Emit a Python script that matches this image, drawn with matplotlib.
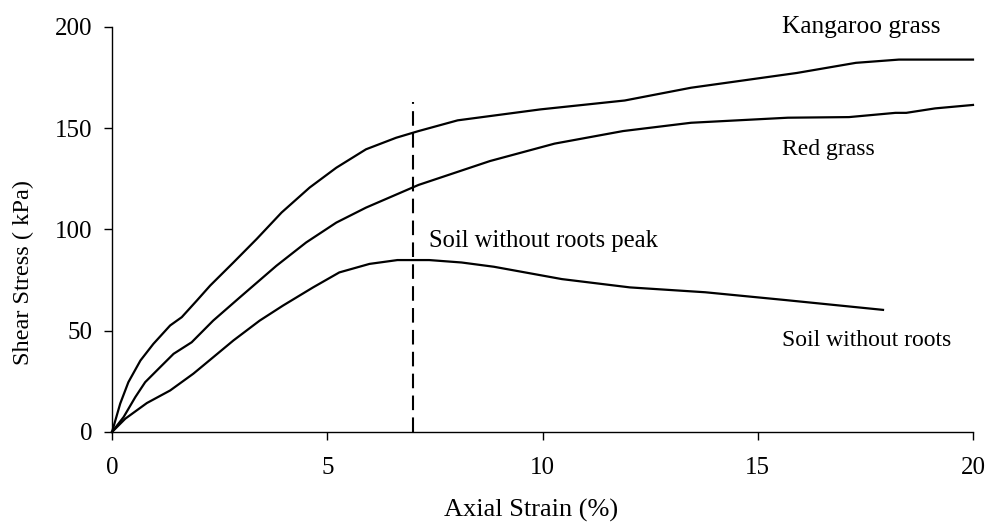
import matplotlib.pyplot as plt

# Axial strain (%) and shear stress (kPa)
kangaroo_x = [0, 0.19, 0.38, 0.66, 0.96, 1.35, 1.62, 1.97, 2.28, 2.82, 3.36, 3.94,
              4.59, 5.21, 5.9, 6.6, 7.12, 8.03, 9.95, 11.91, 13.45, 15.91, 17.28, 18.28, 20]
kangaroo_y = [0, 14, 24.6, 35.3, 43.5, 52.6, 56.7, 64.9, 72.3, 83.7, 95.3, 108.4,
              120.7, 130.5, 139.6, 145.3, 148.6, 153.9, 159.3, 163.7, 170, 177.3, 182.3, 183.9, 183.9]

red_x = [0, 0.27, 0.54, 0.77, 1.08, 1.43, 1.85, 2.35, 2.97, 3.82, 4.51, 5.21, 5.9,
         7.12, 8.78, 10.28, 11.87, 13.45, 15.7, 17.12, 18.2, 18.45, 19.12, 20]
red_y = [0, 7.4, 17.2, 24.6, 31.2, 38.6, 44.3, 55, 66.5, 82.1, 93.6, 103.4, 110.8,
         122, 133.8, 142.4, 148.6, 152.7, 155.2, 155.5, 157.6, 157.6, 159.8, 161.5]

soil_x = [0, 0.31, 0.81, 1.35, 1.89, 2.35, 2.82, 3.43, 3.97, 4.67, 5.28, 5.98, 6.63,
          7.37, 8.12, 8.87, 10.45, 12.03, 13.78, 15.62, 17.91]
soil_y = [0, 6.6, 14.3, 20.5, 28.8, 36.9, 45.2, 55, 62.4, 71.4, 78.8, 83, 84.9,
          84.9, 83.7, 81.6, 75.5, 71.4, 69, 65.2, 60.3]

peak_strain = 7.0
peak_line_top = 163

x_ticks = [0, 5, 10, 15, 20]
y_ticks = [0, 50, 100, 150, 200]

plt.rcParams['font.family'] = ['Liberation Serif', 'DejaVu Serif']

fig = plt.figure(figsize=(9.87, 5.24), dpi=100)
ax = fig.add_axes([0.1135, 0.1756, 0.8723, 0.7729])

for xs, ys in [(kangaroo_x, kangaroo_y), (red_x, red_y), (soil_x, soil_y)]:
    ax.plot(xs, ys, color='black', lw=1.6, clip_on=False)

ax.plot([peak_strain, peak_strain], [0, peak_line_top], color='black', lw=1.5,
        linestyle=(0, (7, 3.5)), clip_on=False)

ax.text(15.56, 197.2, 'Kangaroo grass', fontsize=18.3, va='baseline')
ax.text(15.56, 136.8, 'Red grass', fontsize=17, va='baseline')
ax.text(15.56, 42.5, 'Soil without roots', fontsize=17, va='baseline')
ax.text(7.36, 91.2, 'Soil without roots peak', fontsize=17.7, va='baseline')

ax.set_xlim(0, 20)
ax.set_ylim(0, 200)
ax.set_xticks(x_ticks)
ax.set_yticks(y_ticks)
ax.tick_params(direction='out', length=6, width=1, labelsize=18)
ax.tick_params(axis='x', pad=12)
ax.tick_params(axis='y', pad=8)

for side in ['top', 'right']:
    ax.spines[side].set_visible(False)
for side in ['left', 'bottom']:
    ax.spines[side].set_linewidth(1)

ax.set_xlabel('Axial Strain (%)', fontsize=19)
ax.xaxis.set_label_coords(0.487, -0.193)
ax.xaxis.label.set_va('center')
ax.set_ylabel('Shear Stress ( kPa)', fontsize=17.6)
ax.yaxis.set_label_coords(-0.103, 0.395)
ax.yaxis.label.set_va('center')

fig.savefig('out.png', dpi=100)
